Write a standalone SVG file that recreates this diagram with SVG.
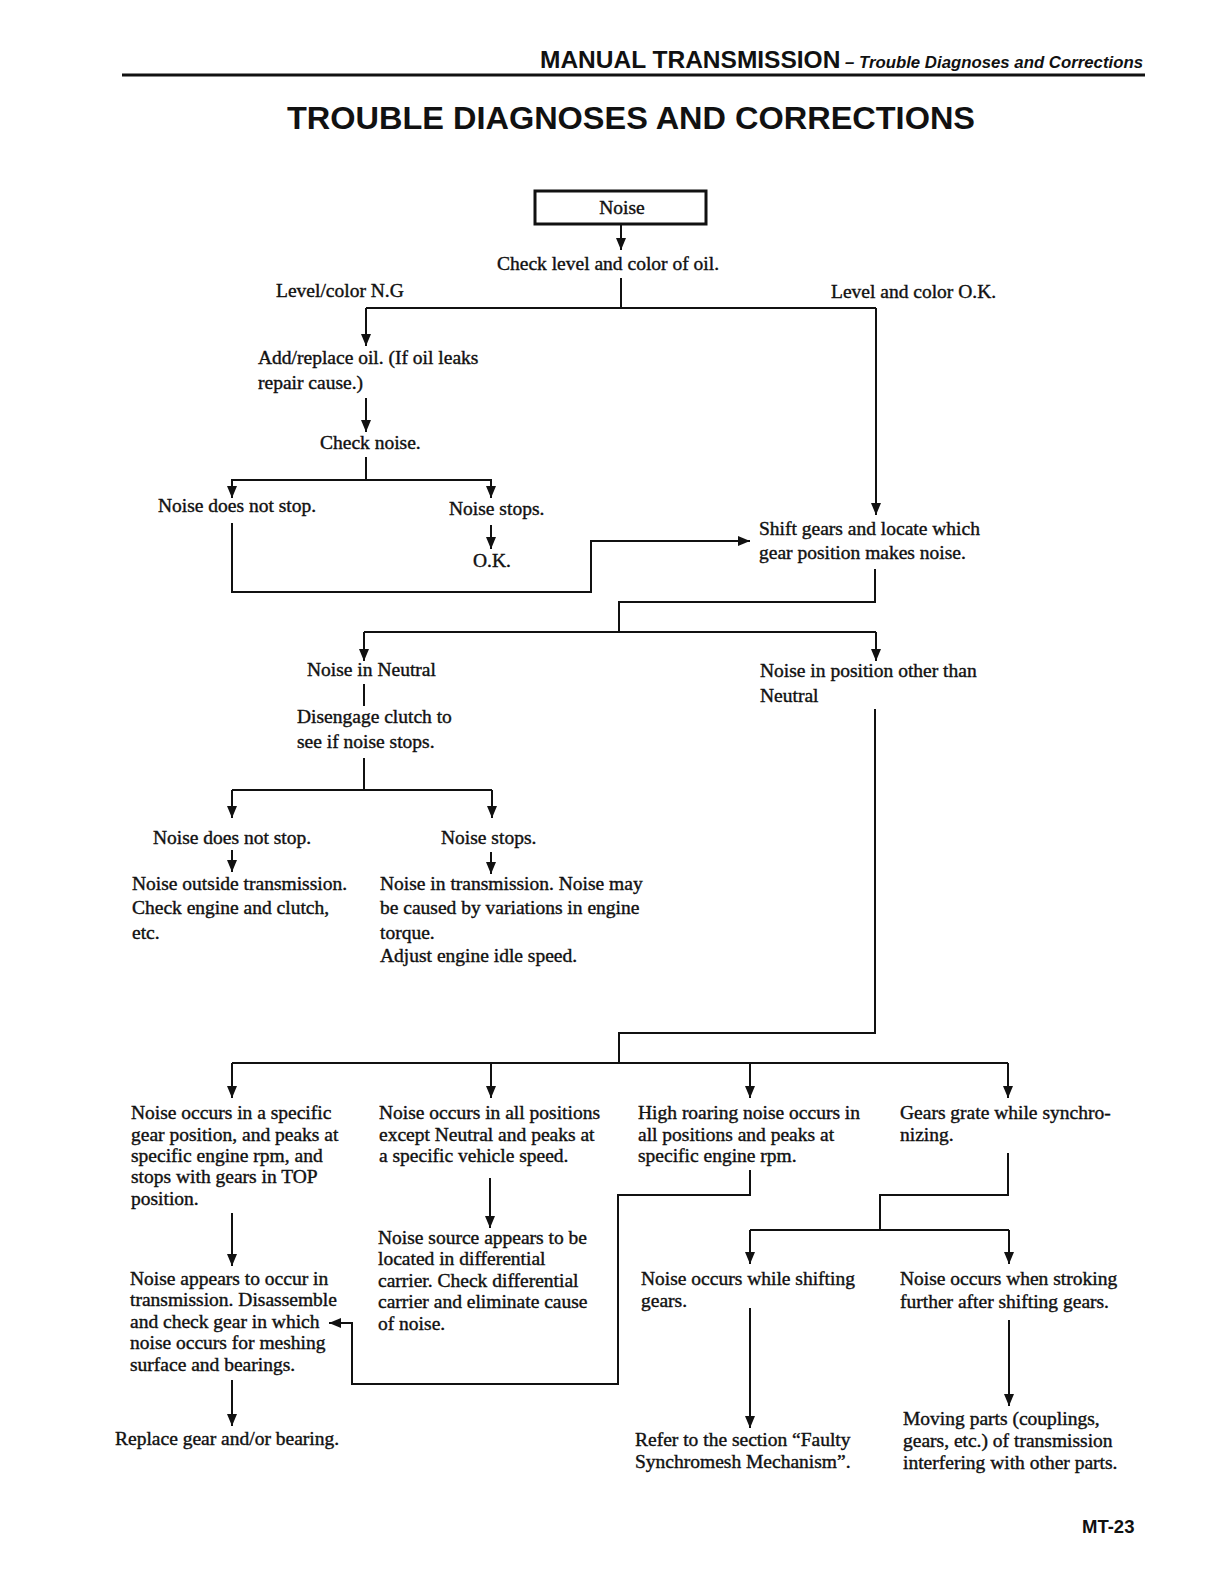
<svg xmlns="http://www.w3.org/2000/svg" width="1224" height="1584" viewBox="0 0 1224 1584">
<defs>
<marker id="ah" markerUnits="userSpaceOnUse" markerWidth="12" markerHeight="12" viewBox="0 0 12 12" refX="12" refY="6" orient="auto">
<path d="M0,1 L12,6 L0,11 Z" fill="#111"/>
</marker>
</defs>
<style>
.t{font-family:"Liberation Serif","Times New Roman",serif;font-size:19.5px;fill:#111;stroke:#111;stroke-width:0.4}
.c{fill:none;stroke:#111;stroke-width:2}
.a{fill:none;stroke:#111;stroke-width:2;marker-end:url(#ah)}
</style>
<rect width="1224" height="1584" fill="#fff"/>
<g id="header">
<text x="540" y="68" font-family="Liberation Sans,Arial,sans-serif" font-weight="bold" font-size="24.5" fill="#111">MANUAL TRANSMISSION</text>
<text x="845" y="68" font-family="Liberation Sans,Arial,sans-serif" font-weight="bold" font-style="italic" font-size="17" fill="#111" textLength="298" lengthAdjust="spacingAndGlyphs">– Trouble Diagnoses and Corrections</text>
<line x1="122" y1="75" x2="1145" y2="75" stroke="#111" stroke-width="3"/>
<text x="631" y="129" text-anchor="middle" font-family="Liberation Sans,Arial,sans-serif" font-weight="bold" font-size="32" fill="#111" textLength="688" lengthAdjust="spacingAndGlyphs">TROUBLE DIAGNOSES AND CORRECTIONS</text>
</g>
<g id="connectors">
<line class="a" x1="621" y1="224" x2="621" y2="250"/>
<polyline class="c" points="621,278 621,308"/>
<line class="c" x1="366" y1="308" x2="876" y2="308"/>
<line class="a" x1="366" y1="308" x2="366" y2="346"/>
<line class="a" x1="876" y1="308" x2="876" y2="515"/>
<line class="a" x1="366" y1="398" x2="366" y2="432"/>
<line class="c" x1="366" y1="457" x2="366" y2="480"/>
<polyline class="c" points="232,498 232,480 491,480 491,498"/>
<line class="a" x1="232" y1="480" x2="232" y2="498"/>
<line class="a" x1="491" y1="480" x2="491" y2="498"/>
<line class="a" x1="491" y1="525" x2="491" y2="549"/>
<polyline class="a" points="232,523 232,592 591,592 591,541 750,541"/>
<polyline class="c" points="875,569 875,602 619,602 619,632"/>
<line class="c" x1="364" y1="632" x2="876" y2="632"/>
<line class="a" x1="364" y1="632" x2="364" y2="661"/>
<line class="a" x1="876" y1="632" x2="876" y2="661"/>
<line class="c" x1="364" y1="684" x2="364" y2="706"/>
<line class="c" x1="364" y1="758" x2="364" y2="790"/>
<line class="c" x1="232" y1="790" x2="492" y2="790"/>
<line class="a" x1="232" y1="790" x2="232" y2="818"/>
<line class="a" x1="492" y1="790" x2="492" y2="818"/>
<line class="a" x1="232" y1="850" x2="232" y2="872"/>
<line class="a" x1="491" y1="852" x2="491" y2="874"/>
<polyline class="c" points="875,709 875,1033 619,1033 619,1063"/>
<line class="c" x1="232" y1="1063" x2="1008" y2="1063"/>
<line class="a" x1="232" y1="1063" x2="232" y2="1098"/>
<line class="a" x1="491" y1="1063" x2="491" y2="1098"/>
<line class="a" x1="750" y1="1063" x2="750" y2="1098"/>
<line class="a" x1="1008" y1="1063" x2="1008" y2="1098"/>
<line class="a" x1="232" y1="1213" x2="232" y2="1266"/>
<line class="a" x1="232" y1="1380" x2="232" y2="1426"/>
<line class="a" x1="490" y1="1178" x2="490" y2="1228"/>
<polyline class="a" points="750,1170 750,1195 618,1195 618,1384 352,1384 352,1323 329,1323"/>
<polyline class="c" points="1008,1153 1008,1195 880,1195 880,1230"/>
<line class="c" x1="750" y1="1230" x2="1009" y2="1230"/>
<line class="a" x1="750" y1="1230" x2="750" y2="1264"/>
<line class="a" x1="1009" y1="1230" x2="1009" y2="1264"/>
<line class="a" x1="750" y1="1308" x2="750" y2="1428"/>
<line class="a" x1="1009" y1="1320" x2="1009" y2="1406"/>
</g>
<g id="n-noise">
<rect x="535" y="191" width="171" height="33" fill="none" stroke="#111" stroke-width="3"/>
<text class="t" x="622" y="214" text-anchor="middle">Noise</text>
</g>
<g id="n-check-oil"><text class="t" x="497" y="270">Check level and color of oil.</text></g>
<g id="n-ng"><text class="t" x="276" y="297">Level/color N.G</text></g>
<g id="n-ok"><text class="t" x="831" y="298">Level and color O.K.</text></g>
<g id="n-add-oil"><text class="t" x="258" y="364">Add/replace oil. (If oil leaks</text><text class="t" x="258" y="389">repair cause.)</text></g>
<g id="n-check-noise"><text class="t" x="320" y="449">Check noise.</text></g>
<g id="n-not-stop1"><text class="t" x="158" y="512">Noise does not stop.</text></g>
<g id="n-stops1"><text class="t" x="449" y="515">Noise stops.</text></g>
<g id="n-ok2"><text class="t" x="473" y="567">O.K.</text></g>
<g id="n-shift"><text class="t" x="759" y="535">Shift gears and locate which</text><text class="t" x="759" y="559">gear position makes noise.</text></g>
<g id="n-neutral"><text class="t" x="307" y="676">Noise in Neutral</text></g>
<g id="n-other"><text class="t" x="760" y="677">Noise in position other than</text><text class="t" x="760" y="702">Neutral</text></g>
<g id="n-disengage"><text class="t" x="297" y="723">Disengage clutch to</text><text class="t" x="297" y="748">see if noise stops.</text></g>
<g id="n-not-stop2"><text class="t" x="153" y="844">Noise does not stop.</text></g>
<g id="n-stops2"><text class="t" x="441" y="844">Noise stops.</text></g>
<g id="n-outside"><text class="t" x="132" y="890">Noise outside transmission.</text><text class="t" x="132" y="914">Check engine and clutch,</text><text class="t" x="132" y="939">etc.</text></g>
<g id="n-in-trans"><text class="t" x="380" y="890">Noise in transmission. Noise may</text><text class="t" x="380" y="914">be caused by variations in engine</text><text class="t" x="380" y="939">torque.</text><text class="t" x="380" y="962">Adjust engine idle speed.</text></g>
<g id="n-specific"><text class="t" x="131" y="1119">Noise occurs in a specific</text><text class="t" x="131" y="1141">gear position, and peaks at</text><text class="t" x="131" y="1162">specific engine rpm, and</text><text class="t" x="131" y="1183">stops with gears in TOP</text><text class="t" x="131" y="1205">position.</text></g>
<g id="n-all-pos"><text class="t" x="379" y="1119">Noise occurs in all positions</text><text class="t" x="379" y="1141">except Neutral and peaks at</text><text class="t" x="379" y="1162">a specific vehicle speed.</text></g>
<g id="n-roaring"><text class="t" x="638" y="1119">High roaring noise occurs in</text><text class="t" x="638" y="1141">all positions and peaks at</text><text class="t" x="638" y="1162">specific engine rpm.</text></g>
<g id="n-grate"><text class="t" x="900" y="1119">Gears grate while synchro-</text><text class="t" x="900" y="1141">nizing.</text></g>
<g id="n-appears"><text class="t" x="130" y="1285">Noise appears to occur in</text><text class="t" x="130" y="1306">transmission. Disassemble</text><text class="t" x="130" y="1328">and check gear in which</text><text class="t" x="130" y="1349">noise occurs for meshing</text><text class="t" x="130" y="1371">surface and bearings.</text></g>
<g id="n-replace"><text class="t" x="115" y="1445">Replace gear and/or bearing.</text></g>
<g id="n-diff"><text class="t" x="378" y="1244">Noise source appears to be</text><text class="t" x="378" y="1265">located in differential</text><text class="t" x="378" y="1287">carrier. Check differential</text><text class="t" x="378" y="1308">carrier and eliminate cause</text><text class="t" x="378" y="1330">of noise.</text></g>
<g id="n-while-shift"><text class="t" x="641" y="1285">Noise occurs while shifting</text><text class="t" x="641" y="1307">gears.</text></g>
<g id="n-stroking"><text class="t" x="900" y="1285">Noise occurs when stroking</text><text class="t" x="900" y="1308">further after shifting gears.</text></g>
<g id="n-refer"><text class="t" x="635" y="1446">Refer to the section “Faulty</text><text class="t" x="635" y="1468">Synchromesh Mechanism”.</text></g>
<g id="n-moving"><text class="t" x="903" y="1425">Moving parts (couplings,</text><text class="t" x="903" y="1447">gears, etc.) of transmission</text><text class="t" x="903" y="1469">interfering with other parts.</text></g>
<g id="footer"><text x="1082" y="1533" font-family="Liberation Sans,Arial,sans-serif" font-weight="bold" font-size="18.5" fill="#111">MT-23</text></g>
</svg>
